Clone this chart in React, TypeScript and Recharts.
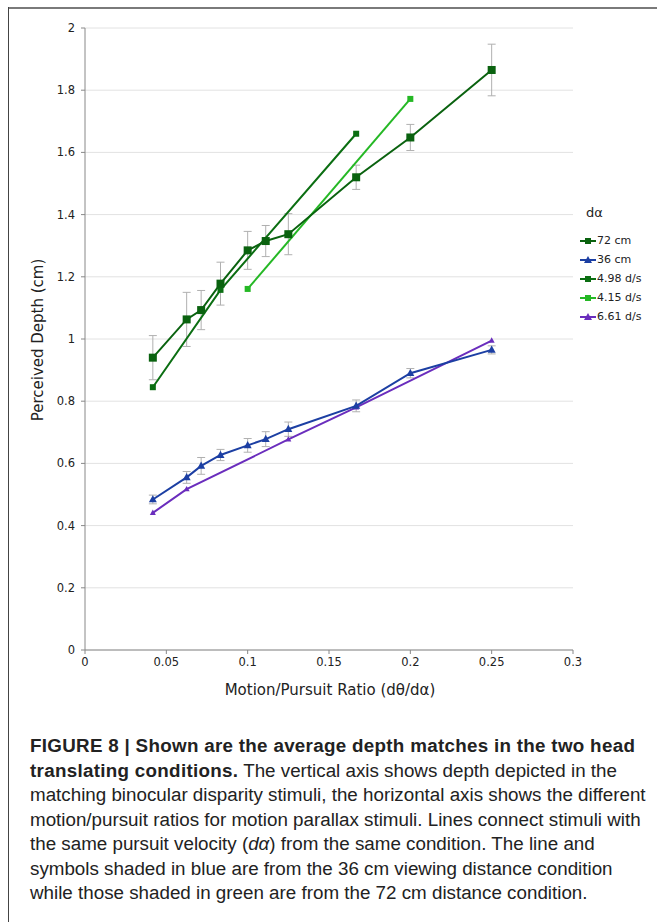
import React from "react";
import {
  ComposedChart,
  Scatter,
  XAxis,
  YAxis,
  CartesianGrid,
  ErrorBar,
} from "recharts";

// pursuit ratio (dθ/dα) per condition
const ratiosAll = [0.0417, 0.0625, 0.0714, 0.0833, 0.1, 0.1111, 0.125, 0.1667, 0.2, 0.25];
const depth72 = [0.94, 1.063, 1.093, 1.178, 1.285, 1.315, 1.337, 1.52, 1.648, 1.865];
const err72 = [0.071, 0.087, 0.063, 0.069, 0.061, 0.05, 0.066, 0.039, 0.042, 0.083];
const depth36 = [0.484, 0.555, 0.592, 0.627, 0.658, 0.678, 0.71, 0.785, 0.89, 0.965];
const err36 = [0.014, 0.019, 0.027, 0.018, 0.022, 0.024, 0.023, 0.019, 0.015, 0.013];

const ratios498 = [0.0417, 0.0833, 0.1667];
const depth498 = [0.845, 1.158, 1.66];
const ratios415 = [0.1, 0.2];
const depth415 = [1.161, 1.772];
const ratios661 = [0.0417, 0.0625, 0.125, 0.1667, 0.25];
const depth661 = [0.441, 0.517, 0.677, 0.78, 0.995];

const xTicks = [0, 0.05, 0.1, 0.15, 0.2, 0.25, 0.3];
const yTicks = [0, 0.2, 0.4, 0.6, 0.8, 1, 1.2, 1.4, 1.6, 1.8, 2];

const legendItems = [
  { name: "72 cm", color: "#0a620f", shape: "square" },
  { name: "36 cm", color: "#1c3fa3", shape: "triangle" },
  { name: "4.98 d/s", color: "#0b6e12", shape: "square" },
  { name: "4.15 d/s", color: "#25b825", shape: "square" },
  { name: "6.61 d/s", color: "#6a2dbd", shape: "triangle" },
];

const zip = (xs: number[], ys: number[], errs?: number[]) =>
  xs.map((x, i) => ({ x, y: ys[i], err: errs ? errs[i] : 0 }));

const square = (size: number, color: string) => (props: any) => {
  const { cx, cy } = props;
  if (cx == null || cy == null) return null;
  return <rect x={cx - size / 2} y={cy - size / 2} width={size} height={size} fill={color} />;
};

const triangle = (size: number, color: string) => (props: any) => {
  const { cx, cy } = props;
  if (cx == null || cy == null) return null;
  const h = size * 0.9;
  return (
    <polygon
      points={`${cx},${cy - h * 0.6} ${cx - size / 2},${cy + h * 0.4} ${cx + size / 2},${cy + h * 0.4}`}
      fill={color}
    />
  );
};

const axisFont = { fontSize: 11.5, fill: "#222", fontFamily: "DejaVu Sans, Verdana, sans-serif" };

function LegendBox() {
  return (
    <div
      style={{
        position: "absolute",
        left: 580,
        top: 205,
        fontFamily: "DejaVu Sans, Verdana, sans-serif",
        fontSize: 11,
        color: "#222",
      }}
    >
      <div style={{ fontSize: 13, marginLeft: 6, height: 26 }}>dα</div>
      {legendItems.map((it) => (
        <div key={it.name} style={{ display: "flex", alignItems: "center", height: 19 }}>
          <svg width={16} height={10}>
            <line x1={0} y1={5} x2={16} y2={5} stroke={it.color} strokeWidth={2} />
            {it.shape === "square" ? (
              <rect x={5} y={2} width={6} height={6} fill={it.color} />
            ) : (
              <polygon points="8,1 4,8 12,8" fill={it.color} />
            )}
          </svg>
          <span style={{ marginLeft: 1 }}>{it.name}</span>
        </div>
      ))}
    </div>
  );
}

export default function App() {
  const c72 = legendItems[0].color;
  const c36 = legendItems[1].color;
  const c498 = legendItems[2].color;
  const c415 = legendItems[3].color;
  const c661 = legendItems[4].color;

  return (
    <div style={{ position: "relative", width: 657, height: 922, background: "#fff" }}>
      <style>{`body{margin:0}`}</style>
      <div style={{ position: "absolute", left: 8, top: 7, width: 649, height: 2, background: "#7a7a7a" }} />
      <div style={{ position: "absolute", left: 8, top: 7, width: 1, height: 915, background: "#444" }} />

      <div style={{ position: "absolute", left: 0, top: 0 }}>
        <ComposedChart width={657} height={710} margin={{ top: 28, right: 84, left: 25, bottom: 30 }}>
          <CartesianGrid vertical={false} stroke="#e2e2e2" />
          <XAxis
            type="number"
            dataKey="x"
            domain={[0, 0.3]}
            ticks={xTicks}
            tick={axisFont}
            tickSize={4}
            tickMargin={4}
            stroke="#888"
            height={30}
            allowDataOverflow
          />
          <YAxis
            type="number"
            dataKey="y"
            domain={[0, 2]}
            ticks={yTicks}
            tick={axisFont}
            tickSize={4}
            tickMargin={6}
            stroke="#888"
            width={60}
          />
          <Scatter
            data={zip(ratios498, depth498)}
            line={{ stroke: c498, strokeWidth: 2 }}
            shape={square(6, c498)}
            isAnimationActive={false}
          />
          <Scatter
            data={zip(ratios415, depth415)}
            line={{ stroke: c415, strokeWidth: 2 }}
            shape={square(6, c415)}
            isAnimationActive={false}
          />
          <Scatter
            data={zip(ratiosAll, depth72, err72)}
            line={{ stroke: c72, strokeWidth: 2 }}
            shape={square(8, c72)}
            isAnimationActive={false}
          >
            <ErrorBar dataKey="err" direction="y" width={4} stroke="#b0b0b0" strokeWidth={1} />
          </Scatter>
          <Scatter
            data={zip(ratios661, depth661)}
            line={{ stroke: c661, strokeWidth: 2 }}
            shape={triangle(6, c661)}
            isAnimationActive={false}
          />
          <Scatter
            data={zip(ratiosAll, depth36, err36)}
            line={{ stroke: c36, strokeWidth: 2 }}
            shape={triangle(8, c36)}
            isAnimationActive={false}
          >
            <ErrorBar dataKey="err" direction="y" width={4} stroke="#b0b0b0" strokeWidth={1} />
          </Scatter>
        </ComposedChart>
      </div>

      <div
        style={{
          position: "absolute",
          left: 38,
          top: 340,
          transform: "translate(-50%, -50%) rotate(-90deg)",
          whiteSpace: "nowrap",
          fontFamily: "DejaVu Sans, Verdana, sans-serif",
          fontSize: 15,
          color: "#222",
        }}
      >
        Perceived Depth (cm)
      </div>
      <div
        style={{
          position: "absolute",
          left: 330,
          top: 690,
          transform: "translate(-50%, -50%)",
          whiteSpace: "nowrap",
          fontFamily: "DejaVu Sans, Verdana, sans-serif",
          fontSize: 15,
          color: "#222",
        }}
      >
        Motion/Pursuit Ratio (dθ/dα)
      </div>

      <LegendBox />

      <div
        style={{
          position: "absolute",
          left: 30,
          top: 734,
          fontFamily: "Liberation Sans, Arial, sans-serif",
          fontSize: 18.8,
          lineHeight: "24.5px",
          color: "#222",
          whiteSpace: "nowrap",
        }}
      >
        <b style={{ letterSpacing: 0.3 }}>FIGURE 8 | Shown are the average depth matches in the two head</b>
        <br />
        <b style={{ letterSpacing: 0.3 }}>translating conditions.</b> The vertical axis shows depth depicted in the
        <br />
        matching binocular disparity stimuli, the horizontal axis shows the different
        <br />
        motion/pursuit ratios for motion parallax stimuli. Lines connect stimuli with
        <br />
        the same pursuit velocity (<i>dα</i>) from the same condition. The line and
        <br />
        symbols shaded in blue are from the 36 cm viewing distance condition
        <br />
        while those shaded in green are from the 72 cm distance condition.
      </div>
    </div>
  );
}
